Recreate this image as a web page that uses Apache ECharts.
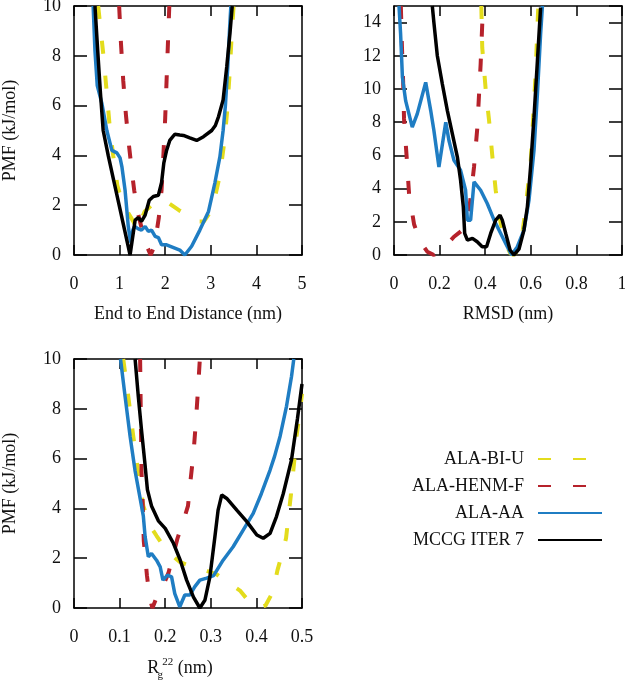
<!DOCTYPE html>
<html>
<head>
<meta charset="utf-8">
<script src="https://cdn.jsdelivr.net/npm/echarts@6/dist/echarts.min.js"></script>
<style>
  html, body { margin: 0; padding: 0; background: #fff; }
  #chart { width: 625px; height: 680px; }
</style>
</head>
<body>
<div id="chart"></div>
<script>
// ---------- data ----------
const seriesNames = ['ALA-BI-U', 'ALA-HENM-F', 'ALA-AA', 'MCCG ITER 7'];

// Panel 1: End to End Distance (nm)
const e2eYellow = [[0.53,10],[0.64,8.1],[0.72,6.5],[0.79,5.0],[0.86,4.0],[0.95,2.8],[1.05,2.15],[1.2,1.65],[1.3,1.35],[1.39,1.0],[1.47,1.4],[1.55,1.75],[1.7,2.0],[1.85,2.2],[1.97,2.2],[2.1,2.05],[2.3,1.8],[2.5,1.6],[2.7,1.35],[2.85,1.35],[3.0,1.75],[3.1,2.4],[3.2,3.2],[3.3,4.6],[3.36,5.8],[3.42,7.5],[3.46,8.9],[3.5,10]];
const e2eRed = [[0.99,10],[1.03,8.5],[1.08,7.0],[1.14,5.6],[1.2,4.5],[1.26,3.5],[1.32,2.6],[1.4,1.7],[1.5,0.95],[1.6,0.35],[1.68,0],[1.75,0.3],[1.81,0.9],[1.86,1.5],[1.92,2.6],[1.96,4.0],[2.0,5.5],[2.03,7.0],[2.06,8.5],[2.09,10]];
const e2eBlue = [[0.42,10],[0.46,8.2],[0.51,6.8],[0.61,6.1],[0.72,5.0],[0.83,4.2],[0.94,4.1],[1.01,3.9],[1.05,3.55],[1.12,2.6],[1.19,1.15],[1.24,0.5],[1.29,1.0],[1.33,1.15],[1.41,1.05],[1.48,1.0],[1.56,1.15],[1.63,0.95],[1.7,1.0],[1.78,0.75],[1.85,0.7],[1.92,0.41],[2.03,0.41],[2.21,0.28],[2.32,0.2],[2.43,0],[2.58,0.35],[2.76,1.0],[2.95,1.75],[3.09,2.9],[3.2,3.95],[3.27,5.0],[3.32,6.0],[3.37,7.5],[3.41,9.0],[3.44,10]];
const e2eBlack = [[0.46,10],[0.52,8.2],[0.58,6.5],[0.64,5.0],[0.75,4.0],[0.87,3.0],[0.99,2.0],[1.11,1.0],[1.23,0],[1.34,1.4],[1.41,1.5],[1.48,1.35],[1.56,1.6],[1.65,2.2],[1.74,2.35],[1.85,2.4],[1.92,2.9],[1.97,3.7],[2.03,4.2],[2.1,4.6],[2.21,4.85],[2.32,4.82],[2.4,4.8],[2.54,4.7],[2.69,4.6],[2.84,4.75],[3.02,5.0],[3.1,5.2],[3.17,5.56],[3.27,6.23],[3.35,7.56],[3.42,8.9],[3.47,10]];

// Panel 2: RMSD (nm)
const rmsdYellow = [[0.383,15],[0.387,12.5],[0.402,10],[0.417,8.1],[0.431,6.0],[0.446,3.9],[0.468,1.9],[0.49,0.7],[0.51,0.1],[0.525,0],[0.545,0.3],[0.565,1.5],[0.578,2.9],[0.6,5.7],[0.611,8.4],[0.621,10.9],[0.632,14.7],[0.634,15]];
const rmsdRed = [[0.03,15],[0.035,12.5],[0.04,10.5],[0.044,8.2],[0.056,5.8],[0.066,3.7],[0.088,1.85],[0.115,0.8],[0.146,0.2],[0.175,0],[0.21,0.35],[0.24,0.75],[0.263,1.1],[0.3,1.5],[0.318,2.2],[0.333,3.1],[0.351,5.3],[0.365,7.6],[0.38,11.5],[0.387,13.9],[0.392,15]];
const rmsdBlue = [[0.022,15],[0.029,13.3],[0.037,10.7],[0.051,9.3],[0.08,7.7],[0.102,8.5],[0.139,10.4],[0.161,8.7],[0.175,7.5],[0.197,5.3],[0.227,8.0],[0.241,6.9],[0.263,5.7],[0.292,5.1],[0.314,3.9],[0.322,2.1],[0.336,2.1],[0.351,4.4],[0.38,3.9],[0.409,3.1],[0.439,2.1],[0.468,1.3],[0.497,0.5],[0.516,0],[0.541,0.5],[0.57,1.5],[0.592,3.3],[0.614,6.3],[0.629,9.7],[0.643,13.3],[0.651,15]];
const rmsdBlack = [[0.168,15],[0.175,14],[0.19,12],[0.212,10.3],[0.234,8.7],[0.256,7.3],[0.278,5.9],[0.292,4.5],[0.304,2.9],[0.31,1.3],[0.322,0.9],[0.344,1.0],[0.365,0.8],[0.387,0.5],[0.406,0.5],[0.424,1.3],[0.446,2.1],[0.465,2.4],[0.475,2.1],[0.49,1.3],[0.509,0.3],[0.526,0],[0.548,0.35],[0.57,1.5],[0.585,2.9],[0.599,5.3],[0.614,8.3],[0.629,11.7],[0.643,14.9]];

// Panel 3: Rg22 (nm)
const rgYellow = [[0.108,10],[0.119,8.5],[0.13,6.9],[0.141,5.4],[0.152,4.1],[0.167,3.3],[0.181,2.9],[0.203,2.3],[0.232,1.85],[0.26,1.65],[0.29,1.5],[0.313,1.35],[0.335,1.05],[0.364,0.7],[0.382,0.3],[0.403,0],[0.42,0.1],[0.436,0.64],[0.446,1.5],[0.455,2.1],[0.465,2.8],[0.476,4.6],[0.483,5.9],[0.488,6.9],[0.494,7.7],[0.5,8.6]];
const rgRed = [[0.145,10],[0.146,8.5],[0.147,7],[0.148,5.5],[0.151,4.0],[0.153,2.7],[0.16,1.3],[0.166,0.4],[0.172,0],[0.185,0.6],[0.2,1.1],[0.207,1.4],[0.217,2.1],[0.227,2.8],[0.24,3.5],[0.25,4.1],[0.256,5.2],[0.262,6.2],[0.267,7.4],[0.272,8.8],[0.276,10]];
const rgBlue = [[0.102,10],[0.112,8.5],[0.123,6.9],[0.134,5.5],[0.145,4.4],[0.152,3.7],[0.156,2.86],[0.163,2.06],[0.17,2.19],[0.181,1.92],[0.189,1.65],[0.195,1.12],[0.205,1.32],[0.214,1.25],[0.221,0.58],[0.232,0.05],[0.243,0.52],[0.254,0.52],[0.265,0.86],[0.276,1.12],[0.291,1.2],[0.306,1.3],[0.327,1.92],[0.349,2.46],[0.371,3.13],[0.393,3.8],[0.411,4.6],[0.43,5.54],[0.44,6.1],[0.452,6.9],[0.466,8.1],[0.477,9.3],[0.482,10]];
const rgBlack = [[0.134,10],[0.141,8.5],[0.148,7.15],[0.155,5.9],[0.161,4.75],[0.17,4.1],[0.185,3.5],[0.2,3.2],[0.218,2.6],[0.233,1.92],[0.247,1.12],[0.262,0.44],[0.276,0],[0.287,0.31],[0.298,1.25],[0.309,2.86],[0.316,3.93],[0.324,4.54],[0.335,4.4],[0.357,3.93],[0.379,3.47],[0.401,2.93],[0.415,2.8],[0.43,3.0],[0.444,3.67],[0.459,4.6],[0.477,5.95],[0.49,7.6],[0.5,9.0]];

// axis ranges / tick intervals
const xMax = [5, 1, 0.5];
const xInterval = [1, 0.2, 0.1];
const yMax = [10, 15, 10];
const yInterval = [2, 2, 2];
const xNames = ['End to End Distance (nm)', 'RMSD (nm)', '{r|R}{g|g}{s|22}{e| (nm)}'];
const yNames = ['PMF (kJ/mol)', '', 'PMF (kJ/mol)'];

// ---------- styling ----------
const FONT = 'Liberation Serif';
const COLORS = ['#e3dc1c', '#b6222b', '#1f7dc3', '#000000'];
const DASH = [13, 22];

const grids = [
  { left: 74, top: 6, width: 228, height: 249, outerBoundsMode: 'none', containLabel: false },
  { left: 394, top: 6, width: 228, height: 249, outerBoundsMode: 'none', containLabel: false },
  { left: 74, top: 359, width: 228, height: 249, outerBoundsMode: 'none', containLabel: false }
];

const lineAxis = { show: true, onZero: false, lineStyle: { color: '#000', width: 1.5 } };

const xAxes = [], yAxes = [];
for (let g = 0; g < 3; g++) {
  const richName = {
    r: { fontFamily: FONT, fontSize: 18, color: '#111' },
    g: { fontFamily: FONT, fontSize: 11, color: '#111', width: 2, padding: [15, 0, 0, 0] },
    s: { fontFamily: FONT, fontSize: 11, color: '#111', padding: [0, 0, 12, 1] },
    e: { fontFamily: FONT, fontSize: 18, color: '#111', padding: [0, 16, 0, 0] }
  };
  xAxes.push({
    type: 'value', gridIndex: g, position: 'bottom', min: 0, max: xMax[g], interval: xInterval[g],
    name: xNames[g], nameLocation: 'middle', nameGap: g === 2 ? 47 : 50,
    nameTextStyle: { fontFamily: FONT, fontSize: 18, color: '#111', rich: richName },
    axisLine: lineAxis,
    axisTick: { show: true, inside: true, length: 10, lineStyle: { color: '#000', width: 1.5 } },
    splitLine: { show: false },
    axisLabel: { fontFamily: FONT, fontSize: 18, color: '#111', margin: 20 }
  });
  xAxes.push({
    type: 'value', gridIndex: g, position: 'top', min: 0, max: xMax[g], interval: xInterval[g],
    axisLine: lineAxis,
    axisTick: { show: true, inside: true, length: 10, lineStyle: { color: '#000', width: 1.5 } },
    splitLine: { show: false },
    axisLabel: { show: false }
  });
  yAxes.push({
    type: 'value', gridIndex: g, position: 'left', min: 0, max: yMax[g], interval: yInterval[g],
    name: yNames[g], nameLocation: 'middle', nameGap: 55,
    nameTextStyle: { fontFamily: FONT, fontSize: 18, color: '#111' },
    axisLine: lineAxis,
    axisTick: { show: true, inside: true, length: 13, lineStyle: { color: '#000', width: 1.5 } },
    splitLine: { show: false },
    axisLabel: { fontFamily: FONT, fontSize: 18, color: '#111', margin: 13, showMaxLabel: yMax[g] % yInterval[g] === 0 }
  });
  yAxes.push({
    type: 'value', gridIndex: g, position: 'right', min: 0, max: yMax[g], interval: yInterval[g],
    axisLine: lineAxis,
    axisTick: { show: true, inside: true, length: 13, lineStyle: { color: '#000', width: 1.5 } },
    splitLine: { show: false },
    axisLabel: { show: false }
  });
}

const panelData = [
  [e2eYellow, e2eRed, e2eBlue, e2eBlack],
  [rmsdYellow, rmsdRed, rmsdBlue, rmsdBlack],
  [rgYellow, rgRed, rgBlue, rgBlack]
];

const series = [];
for (let g = 0; g < 3; g++) {
  for (let k = 0; k < 4; k++) {
    const dashed = k < 2;
    series.push({
      type: 'line', name: seriesNames[k],
      xAxisIndex: 2 * g, yAxisIndex: 2 * g,
      data: panelData[g][k],
      symbol: 'none', showSymbol: false, smooth: false, clip: true,
      z: 2 + k,
      lineStyle: { color: COLORS[k], width: dashed ? 4 : 3.5, type: dashed ? DASH : 'solid' },
      itemStyle: { color: COLORS[k] },
      emphasis: { disabled: true }
    });
  }
}

const chart = echarts.init(document.getElementById('chart'), null, { renderer: 'canvas' });
chart.setOption({
  animation: false,
  backgroundColor: '#fff',
  grid: grids,
  xAxis: xAxes,
  yAxis: yAxes,
  legend: {
    data: seriesNames,
    orient: 'vertical', right: 22, top: 450, align: 'right',
    padding: 0, itemWidth: 64, itemHeight: 14, itemGap: 9,
    selectedMode: false,
    itemStyle: { color: 'rgba(0,0,0,0)', borderColor: 'rgba(0,0,0,0)', borderWidth: 0 },
    textStyle: { fontFamily: FONT, fontSize: 18, color: '#111', lineHeight: 18, padding: [0, 9, 0, 0] }
  },
  series: series
});
</script>
</body>
</html>
